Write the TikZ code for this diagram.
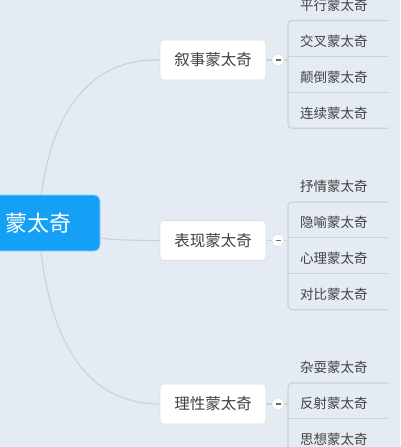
\documentclass[tikz,border=0pt]{standalone}
\usepackage{fontspec}
\setmainfont{Noto Sans CJK SC}
\usetikzlibrary{positioning}
\definecolor{bgc}{RGB}{229,235,243}
\definecolor{rootc}{RGB}{20,160,245}
\definecolor{linec}{RGB}{203,209,217}
\definecolor{txtc}{RGB}{66,66,66}
\pgfdeclarelayer{back}
\pgfdeclarelayer{links}
\pgfsetlayers{back,links,main}

\begin{document}
\begin{tikzpicture}[x=1pt, y=-1pt,
  link/.style={draw=linec, line width=1.1pt},
  leafline/.style={draw=linec, line width=1.1pt, rounded corners=4pt},
  root/.style={fill=rootc, draw=rootc!45!white, line width=0.8pt, rounded corners=6pt, minimum width=123pt, minimum height=56pt, text=white, font=\fontsize{22pt}{22pt}\selectfont},
  topic/.style={fill=white, draw=linec!70!white, line width=0.6pt, rounded corners=4pt, minimum width=106pt, minimum height=40pt, text=txtc, font=\fontsize{15.5pt}{15.5pt}\selectfont},
  fold/.style={circle, fill=white, draw=linec!70!white, line width=0.5pt, minimum size=12pt, inner sep=0pt, text=txtc!80!white},
  leaf/.style={text width=76pt, align=left, inner xsep=12pt, inner ysep=0pt, text height=25.5pt, text depth=10pt, text=txtc, font=\fontsize{13.5pt}{13.5pt}\selectfont}]
\begin{pgfonlayer}{back}
\fill[bgc] (0,0) rectangle (400,447);
\end{pgfonlayer}
\useasboundingbox (0,0) rectangle (400,447);

% root and main topics
\node (0) [root] at (38.5,223) {蒙太奇};
\node (1) [topic] at (213,60) {叙事蒙太奇};
\node (2) [topic] at (213,240.5) {表现蒙太奇};
\node (3) [topic] at (213,404) {理性蒙太奇};
\node (10) [fold] at (278,60) {\rule{5pt}{1.2pt}};
\node (20) [fold] at (278,240.5) {\rule{5pt}{1.2pt}};
\node (30) [fold] at (278,404) {\rule{5pt}{1.2pt}};

% leaves
\node (11) [leaf, anchor=south west] at (288,20.5) {平行蒙太奇};
\node (12) [leaf, below=0pt of 11] {交叉蒙太奇};
\node (13) [leaf, below=0pt of 12] {颠倒蒙太奇};
\node (14) [leaf, below=0pt of 13] {连续蒙太奇};
\node (21) [leaf, anchor=south west] at (288,202) {抒情蒙太奇};
\node (22) [leaf, below=0pt of 21] {隐喻蒙太奇};
\node (23) [leaf, below=0pt of 22] {心理蒙太奇};
\node (24) [leaf, below=0pt of 23] {对比蒙太奇};
\node (31) [leaf, anchor=south west] at (288,383) {杂耍蒙太奇};
\node (32) [leaf, below=0pt of 31] {反射蒙太奇};
\node (33) [leaf, below=0pt of 32] {思想蒙太奇};

\begin{pgfonlayer}{links}
\draw[link] (0.center) .. controls (45,120) and (85,58) .. (1.west);
\draw[link] (0.center) .. controls (100,240) .. (2.west);
\draw[link] (0.center) .. controls (45,330) and (80,404) .. (3.west);
\draw[link] (1) -- (10);
\draw[link] (2) -- (20);
\draw[link] (3) -- (30);
\draw[link] (10) -- (10 -| 11.south west);
\draw[link] (20) -- (20 -| 21.south west);
\draw[link] (30) -- (30 -| 31.south west);
% brackets under the leaves
\draw[leafline] (11.south east) -- (11.south west) -- (14.south west) -- (14.south east);
\draw[leafline] (12.south west) -- (12.south east);
\draw[leafline] (13.south west) -- (13.south east);
\draw[leafline] (21.south east) -- (21.south west) -- (24.south west) -- (24.south east);
\draw[leafline] (22.south west) -- (22.south east);
\draw[leafline] (23.south west) -- (23.south east);
\draw[leafline] (31.south east) -- (31.south west) -- (33.south west) -- (33.south east);
\draw[leafline] (32.south west) -- (32.south east);
\end{pgfonlayer}
\end{tikzpicture}
\end{document}
